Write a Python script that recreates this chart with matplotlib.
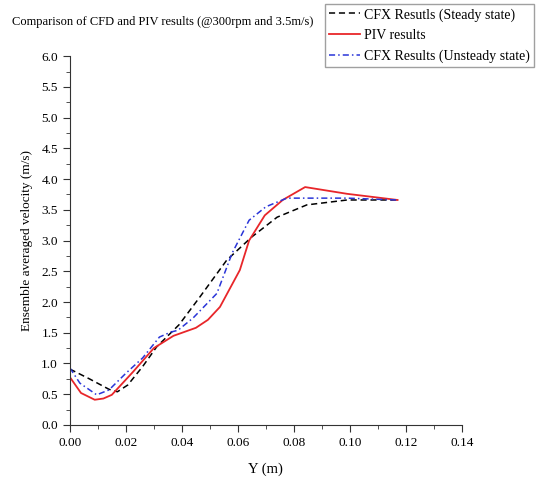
import numpy as np
import matplotlib.pyplot as plt
from matplotlib.ticker import MultipleLocator

plt.rcParams['font.family'] = ['Liberation Serif', 'DejaVu Serif']

# Datos
y_steady = [0.0, 0.007, 0.014, 0.017, 0.0207, 0.026, 0.031, 0.039, 0.0464, 0.056,
            0.065, 0.074, 0.0846, 0.099, 0.117]
v_steady = [0.91, 0.75, 0.58, 0.54, 0.65, 0.95, 1.27, 1.63, 2.08, 2.68,
            3.06, 3.38, 3.58, 3.66, 3.66]

y_piv = [0.0, 0.004, 0.0089, 0.012, 0.015, 0.0225, 0.030, 0.037, 0.045, 0.0493,
         0.0536, 0.0607, 0.064, 0.0696, 0.076, 0.084, 0.099, 0.117]
v_piv = [0.78, 0.52, 0.41, 0.43, 0.49, 0.86, 1.25, 1.45, 1.58, 1.71,
         1.92, 2.52, 3.0, 3.41, 3.66, 3.87, 3.76, 3.66]

y_unst = [0.0, 0.0036, 0.0096, 0.014, 0.020, 0.026, 0.032, 0.036, 0.0386, 0.044,
          0.0525, 0.058, 0.064, 0.070, 0.0775, 0.088, 0.099, 0.117]
v_unst = [0.93, 0.68, 0.49, 0.57, 0.84, 1.09, 1.43, 1.51, 1.54, 1.74,
          2.14, 2.80, 3.33, 3.55, 3.69, 3.69, 3.69, 3.66]

x_ticks = [0.0, 0.02, 0.04, 0.06, 0.08, 0.10, 0.12, 0.14]
y_ticks = [0.0, 0.5, 1.0, 1.5, 2.0, 2.5, 3.0, 3.5, 4.0, 4.5, 5.0, 5.5, 6.0]

fig = plt.figure(figsize=(5.41, 4.84), dpi=100)
ax = fig.add_axes([0.129, 0.122, 0.725, 0.762])

ax.plot(y_steady, v_steady, color='black', ls=(0, (4, 2.5)), lw=1.1,
        label='CFX Resutls (Steady state)')
ax.plot(y_piv, v_piv, color='#e8262a', ls='-', lw=1.3, label='PIV results')
ax.plot(y_unst, v_unst, color='#2a35d8', ls=(0, (4, 2, 1, 2)), lw=1.1,
        label='CFX Results (Unsteady state)')

ax.set_xlim(0, 0.14)
ax.set_ylim(0, 6.0)
ax.set_xticks(x_ticks)
ax.set_xticklabels([f'{v:.2f}' for v in x_ticks])
ax.set_yticks(y_ticks)
ax.set_yticklabels([f'{v:.1f}' for v in y_ticks])
ax.xaxis.set_minor_locator(MultipleLocator(0.01))
ax.yaxis.set_minor_locator(MultipleLocator(0.25))
ax.tick_params(which='major', direction='out', length=5, labelsize=9.5, color='#333333')
ax.tick_params(which='minor', direction='out', length=3, color='#333333')
ax.spines['top'].set_visible(False)
ax.spines['right'].set_visible(False)
ax.spines['left'].set_color('#333333')
ax.spines['bottom'].set_color('#333333')

ax.set_xlabel('Y (m)', fontsize=10.5, labelpad=10)
ax.set_ylabel('Ensemble averaged velocity (m/s)', fontsize=9.5, labelpad=6)

fig.text(0.022, 0.955, 'Comparison of CFD and PIV results (@300rpm and 3.5m/s)',
         fontsize=9, va='center', ha='left')

leg = fig.legend(loc='upper right', bbox_to_anchor=(0.987, 0.992), fontsize=10,
                 frameon=True, fancybox=False, handlelength=2.2, handletextpad=0.3,
                 labelspacing=0.55, borderpad=0.3, borderaxespad=0)
leg.get_frame().set_edgecolor('#888888')
leg.get_frame().set_linewidth(1.0)

plt.savefig('out.png', dpi=100)
